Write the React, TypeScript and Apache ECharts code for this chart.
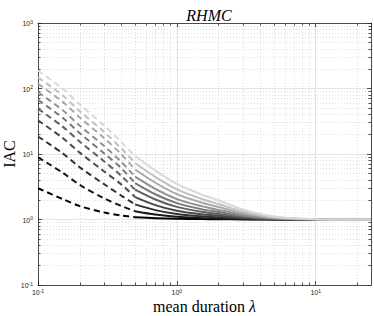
import React, { useEffect, useRef } from 'react';
import * as echarts from 'echarts';

// mean duration λ sample points (dashed part < 0.5, solid part >= 0.5)
const LAMBDA_DASHED = [0.1, 0.15, 0.2, 0.3, 0.4, 0.5];
const LAMBDA_SOLID = [0.5, 0.7, 1, 1.5, 2, 3, 4, 5, 7, 10, 15, 25];

// IAC values, darkest curve first
const IAC_DASHED = [
  [3.0, 2.06, 1.6, 1.28, 1.15, 1.08],
  [8.9, 5.2, 3.37, 2.1, 1.6, 1.34],
  [18.5, 10.3, 6.25, 3.45, 2.3, 1.7],
  [32.6, 17.7, 10.5, 5.4, 3.4, 2.2],
  [49, 26.4, 15.4, 7.7, 4.6, 2.85],
  [67, 36, 20.8, 10.2, 6.0, 3.6],
  [88, 47, 27, 13.2, 7.5, 4.5],
  [118, 63, 36, 17.4, 9.8, 5.8],
  [148, 79, 45, 21.6, 12, 7.3],
  [188, 100, 57, 27.2, 15, 9.3],
];
const IAC_SOLID = [
  [1.08, 1.044, 1.024, 1.014, 1.009, 1.004, 1.002, 1.001, 1.0004, 1.0001, 1, 1],
  [1.34, 1.19, 1.1, 1.058, 1.039, 1.017, 1.009, 1.004, 1.002, 1.0005, 1, 1],
  [1.7, 1.39, 1.21, 1.12, 1.08, 1.035, 1.018, 1.009, 1.0035, 1.001, 1, 1],
  [2.2, 1.66, 1.36, 1.2, 1.14, 1.06, 1.03, 1.016, 1.006, 1.002, 1, 1],
  [2.85, 2.02, 1.56, 1.31, 1.21, 1.093, 1.046, 1.024, 1.009, 1.003, 1.001, 1],
  [3.6, 2.43, 1.78, 1.44, 1.3, 1.13, 1.065, 1.034, 1.013, 1.004, 1.001, 1],
  [4.5, 2.93, 2.05, 1.6, 1.4, 1.175, 1.088, 1.046, 1.018, 1.005, 1.001, 1],
  [5.8, 3.64, 2.44, 1.82, 1.55, 1.24, 1.12, 1.062, 1.024, 1.007, 1.001, 1],
  [7.3, 4.47, 2.89, 2.07, 1.72, 1.32, 1.16, 1.082, 1.032, 1.009, 1.002, 1],
  [9.3, 5.57, 3.49, 2.41, 1.95, 1.42, 1.21, 1.11, 1.042, 1.012, 1.002, 1],
];

const LINE_COLORS = [
  '#000000', '#181818', '#303030', '#484848', '#606060',
  '#787878', '#909090', '#a8a8a8', '#c0c0c0', '#d8d8d8',
];

const X_MIN = 0.1;
const X_MAX = 25;
const Y_MIN = 0.1;
const Y_MAX = 1000;
const X_MINOR = [0.2, 0.3, 0.4, 0.5, 0.6, 0.7, 0.8, 0.9, 2, 3, 4, 5, 6, 7, 8, 9, 20];
const Y_MINOR = [
  0.2, 0.3, 0.4, 0.5, 0.6, 0.7, 0.8, 0.9,
  2, 3, 4, 5, 6, 7, 8, 9,
  20, 30, 40, 50, 60, 70, 80, 90,
  200, 300, 400, 500, 600, 700, 800, 900,
];

const AXIS_COLOR = '#262626';
const LABEL_FONT = 'Liberation Sans';
const SERIF = 'Liberation Serif';

function powLabel(v: number): string {
  const l = Math.log10(v);
  const e = Math.round(l);
  if (Math.abs(l - e) > 1e-6) return '';
  return `{b|10}{s|${e}}`;
}

const richLabel = {
  b: { fontSize: 7, color: AXIS_COLOR, fontFamily: LABEL_FONT, verticalAlign: 'bottom', lineHeight: 8 },
  s: { fontSize: 5, color: AXIS_COLOR, fontFamily: LABEL_FONT, verticalAlign: 'top', lineHeight: 8 },
};

export default function App() {
  const ref = useRef<HTMLDivElement>(null);
  useEffect(() => {
    if (!ref.current) return;
    const chart = echarts.init(ref.current, undefined, { renderer: 'svg' });

    const minorGridStyle = { color: '#d6d6d6', type: [1, 2], width: 0.8 };
    const tickStyle = { color: AXIS_COLOR, type: 'solid', width: 0.8 };
    const fy = Math.pow(10, 2.5 / 65.5);
    const fx = Math.pow(10, 2.5 / 139);

    const markData: any[] = [];
    X_MINOR.forEach((v) => markData.push({ xAxis: v, lineStyle: minorGridStyle }));
    Y_MINOR.forEach((v) => markData.push({ yAxis: v, lineStyle: minorGridStyle }));
    X_MINOR.forEach((v) => {
      markData.push([{ coord: [v, Y_MIN], lineStyle: tickStyle }, { coord: [v, Y_MIN * fy] }]);
      markData.push([{ coord: [v, Y_MAX], lineStyle: tickStyle }, { coord: [v, Y_MAX / fy] }]);
    });
    Y_MINOR.forEach((v) => {
      markData.push([{ coord: [X_MIN, v], lineStyle: tickStyle }, { coord: [X_MIN * fx, v] }]);
      markData.push([{ coord: [X_MAX, v], lineStyle: tickStyle }, { coord: [X_MAX / fx, v] }]);
    });

    const series: any[] = [
      {
        type: 'line',
        data: [[1, 1]],
        showSymbol: false,
        symbol: 'none',
        lineStyle: { opacity: 0 },
        silent: true,
        z: 1,
        markLine: {
          silent: true,
          symbol: 'none',
          z: 1,
          label: { show: false },
          animation: false,
          data: markData,
        },
      },
    ];
    IAC_DASHED.forEach((vals, k) => {
      series.push({
        type: 'line',
        data: LAMBDA_DASHED.map((x, i) => [x, vals[i]]),
        symbol: 'none',
        smooth: 0.3,
        z: 3,
        lineStyle: { color: LINE_COLORS[k], width: 2, type: [6, 4] },
      });
    });
    IAC_SOLID.forEach((vals, k) => {
      series.push({
        type: 'line',
        data: LAMBDA_SOLID.map((x, i) => [x, vals[i]]),
        symbol: 'none',
        smooth: 0.3,
        z: 3,
        lineStyle: { color: LINE_COLORS[k], width: 2, type: 'solid' },
      });
    });

    const axisLine = { show: true, lineStyle: { color: AXIS_COLOR, width: 0.8 } };
    const majorTick = { show: true, inside: true, length: 4, lineStyle: { color: AXIS_COLOR, width: 0.8 } };

    chart.setOption({
      animation: false,
      backgroundColor: '#ffffff',
      title: {
        text: 'RHMC',
        left: 204,
        textAlign: 'center',
        top: 2,
        textStyle: { fontFamily: SERIF, fontStyle: 'italic', fontWeight: 'normal', fontSize: 16, color: '#000' },
      },
      grid: { left: 38, right: 3, top: 23, bottom: 31, containLabel: false, outerBoundsMode: 'none' },
      xAxis: [
        {
          type: 'log',
          logBase: 10,
          min: X_MIN,
          max: X_MAX,
          position: 'bottom',
          axisLine,
          axisTick: majorTick,
          axisLabel: { formatter: powLabel, rich: richLabel, margin: 3, showMaxLabel: false },
          splitLine: { show: true, lineStyle: { color: '#e3e3e3', width: 1 } },
          name: '{a|mean duration }{b|λ}',
          nameLocation: 'middle',
          nameGap: 13,
          nameMoveOverlap: false,
          nameTextStyle: {
            verticalAlign: 'top',
            rich: {
              a: { fontFamily: SERIF, fontSize: 16, color: '#000', lineHeight: 16 },
              b: { fontFamily: SERIF, fontSize: 16, color: '#000', fontStyle: 'italic', lineHeight: 16 },
            },
          },
        },
        {
          type: 'log',
          logBase: 10,
          min: X_MIN,
          max: X_MAX,
          position: 'top',
          axisLine,
          axisTick: majorTick,
          axisLabel: { show: false },
          splitLine: { show: false },
        },
      ],
      yAxis: [
        {
          type: 'log',
          logBase: 10,
          min: Y_MIN,
          max: Y_MAX,
          position: 'left',
          axisLine,
          axisTick: majorTick,
          axisLabel: { formatter: powLabel, rich: richLabel, margin: 5 },
          splitLine: { show: true, lineStyle: { color: '#e3e3e3', width: 1 } },
          name: 'IAC',
          nameLocation: 'middle',
          nameGap: 21,
          nameMoveOverlap: false,
          nameTextStyle: { fontFamily: SERIF, fontSize: 16, color: '#000' },
        },
        {
          type: 'log',
          logBase: 10,
          min: Y_MIN,
          max: Y_MAX,
          position: 'right',
          axisLine,
          axisTick: majorTick,
          axisLabel: { show: false },
          splitLine: { show: false },
        },
      ],
      series,
    });
    return () => chart.dispose();
  }, []);
  return (
    <div
      ref={ref}
      style={{ position: 'fixed', left: 0, top: 0, width: 374, height: 316, background: '#fff' }}
    />
  );
}
